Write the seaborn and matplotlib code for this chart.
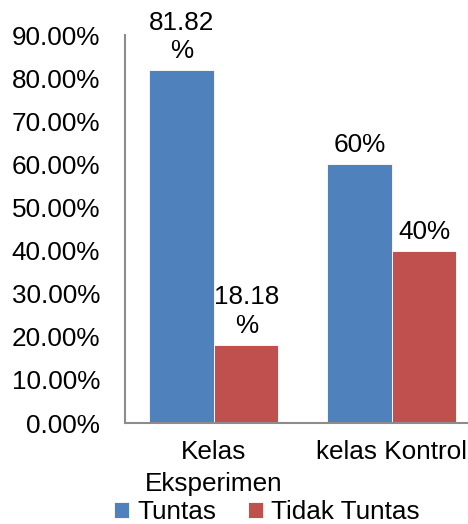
import pandas as pd
import matplotlib
matplotlib.use("Agg")
import matplotlib.pyplot as plt
import seaborn as sns

# ------------------------------------------------------------
# Data
# ------------------------------------------------------------
kelas = ["Kelas\nEksperimen", "kelas Kontrol"]
status = ["Tuntas", "Tidak Tuntas"]
tuntas = [0.8182, 0.60]
tidak_tuntas = [0.1818, 0.40]
label_tuntas = ["81.82\n%", "60%"]
label_tidak = ["18.18\n%", "40%"]
y_ticks = [0.0, 0.1, 0.2, 0.3, 0.4, 0.5, 0.6, 0.7, 0.8, 0.9]

df = pd.DataFrame({
    "kelas": kelas * 2,
    "status": [status[0]] * 2 + [status[1]] * 2,
    "nilai": tuntas + tidak_tuntas,
})

sns.set_style("white")
plt.rcParams["font.family"] = ["Liberation Sans", "DejaVu Sans"]
plt.rcParams["text.color"] = "black"
plt.rcParams["xtick.color"] = "black"
plt.rcParams["ytick.color"] = "black"
FS = 18.8

fig = plt.figure(figsize=(4.68, 5.24), dpi=100)
ax = fig.add_axes([0.267, 0.1927, 0.7607, 0.7405])

sns.barplot(data=df, x="kelas", y="nilai", hue="status", order=kelas,
            hue_order=status, palette=["#4F81BD", "#C0504D"],
            width=0.725, gap=0, saturation=1, edgecolor="white",
            linewidth=0.6, ax=ax, legend=True)

ax.bar_label(ax.containers[0], labels=label_tuntas, fontsize=FS, padding=5,
             linespacing=1.25)
ax.bar_label(ax.containers[1], labels=label_tidak, fontsize=FS, padding=5,
             linespacing=1.25)

ax.set_ylim(0, 0.9)
ax.set_xlim(-0.5, 1.5)
ax.set_yticks(y_ticks)
ax.set_yticklabels([f"{v * 100:.2f}%" for v in y_ticks], fontsize=FS)
ax.tick_params(axis="y", length=0, pad=18)
ax.tick_params(axis="x", length=0, pad=12, labelsize=FS)
for lbl in ax.get_xticklabels():
    lbl.set_linespacing(1.45)
ax.set_xlabel("")
ax.set_ylabel("")

for side in ["top", "right"]:
    ax.spines[side].set_visible(False)
for side in ["left", "bottom"]:
    ax.spines[side].set_color("#8C8C8C")
    ax.spines[side].set_linewidth(1.5)

handles, labels = ax.get_legend_handles_labels()
ax.get_legend().remove()
fig.legend(handles, labels, loc="lower center", bbox_to_anchor=(0.57, -0.045),
           ncol=2, frameon=False, fontsize=FS, handlelength=0.6,
           handleheight=0.6, handletextpad=0.3, columnspacing=1.2)

fig.savefig("out.png", dpi=100)
